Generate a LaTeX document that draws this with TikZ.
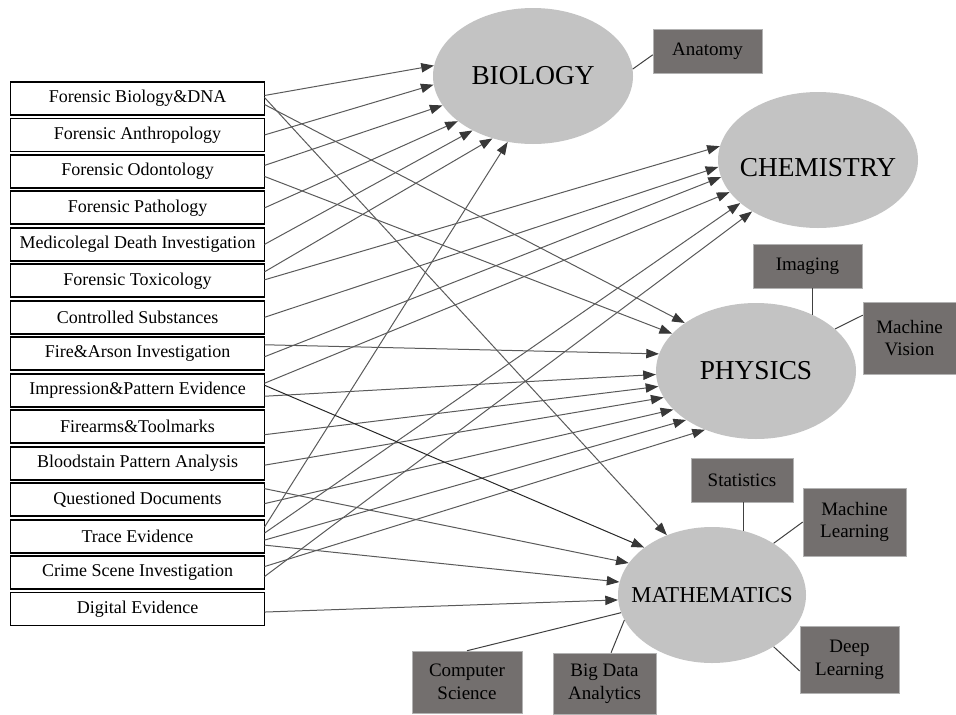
\documentclass[tikz,border=0pt]{standalone}
\usepackage{fontspec}
\setmainfont{Liberation Serif}
\usetikzlibrary{arrows.meta,positioning,shapes.geometric}

\definecolor{ellgray}{HTML}{C3C3C3}
\definecolor{tagfill}{HTML}{736F6E}
\definecolor{linegray}{HTML}{5A5A5A}
\definecolor{tipgray}{HTML}{383838}

\begin{document}
\begin{tikzpicture}[
  x=0.75pt, y=-0.75pt,
  field/.style={rectangle, draw, line width=1.4pt, minimum width=190.5pt, minimum height=24.75pt,
                outer sep=0pt, inner sep=0pt, font=\fontsize{13.5}{15}\selectfont},
  science/.style={ellipse, fill=ellgray, minimum width=150pt, minimum height=102pt, inner sep=0pt,
                  font=\fontsize{20.5}{24}\selectfont},
  tag/.style={rectangle, fill=tagfill, draw=gray!60, line width=0.4pt, align=center, inner sep=1pt,
              font=\fontsize{14.25}{17}\selectfont},
  arr/.style={-{Triangle[length=9.5pt, width=7pt, color=tipgray]}, draw=linegray, line width=0.75pt},
  link/.style={draw=black!75, line width=0.75pt}
]
\useasboundingbox (0,0) rectangle (956,714);

% forensic disciplines
\node[field] (dna) at (137.5,98.5) {Forensic Biology\&DNA};
\node[field, below=2.6pt of dna] (anthro) {Forensic Anthropology};
\node[field, below=2.6pt of anthro] (odonto) {Forensic Odontology};
\node[field, below=2.6pt of odonto] (patho) {Forensic Pathology};
\node[field, below=2.6pt of patho] (medico) {Medicolegal Death Investigation};
\node[field, below=2.6pt of medico] (toxi) {Forensic Toxicology};
\node[field, below=2.6pt of toxi] (controlled) {Controlled Substances};
\node[field, below=2.6pt of controlled] (fire) {Fire\&Arson Investigation};
\node[field, below=2.6pt of fire] (impression) {Impression\&Pattern Evidence};
\node[field, below=2.6pt of impression] (firearms) {Firearms\&Toolmarks};
\node[field, below=2.6pt of firearms] (bloodstain) {Bloodstain Pattern Analysis};
\node[field, below=2.6pt of bloodstain] (questioned) {Questioned Documents};
\node[field, below=2.6pt of questioned] (trace) {Trace Evidence};
\node[field, below=2.6pt of trace] (crime) {Crime Scene Investigation};
\node[field, below=2.6pt of crime] (digital) {Digital Evidence};

% sciences
\node[science] (bio) at (533,76) {BIOLOGY};
\node[science] (chem) at (818,160) {\makebox[0pt]{\raisebox{-12pt}[0pt][0pt]{CHEMISTRY}}};
\node[science] (phy) at (756,371) {PHYSICS};
\node[science, minimum width=141pt, font=\fontsize{17}{20}\selectfont] (math) at (712,595) {\makebox[0pt]{MATHEMATICS}};

% sub-fields
\node[tag, minimum width=81.75pt, minimum height=33pt] (anatomy) at (707.5,51) {Anatomy};
\node[tag, minimum width=81.75pt, minimum height=33pt] (imaging) at (807.5,266) {Imaging};
\node[tag, minimum width=69.75pt, minimum height=54pt] (mvision) at (909.5,338) {Machine\\Vision};
\node[tag, minimum width=76.5pt, minimum height=33pt] (stats) at (742,480) {Statistics};
\node[tag, minimum width=77.25pt, minimum height=51pt] (mlearn) at (854.5,522) {Machine\\Learning};
\node[tag, minimum width=74.25pt, minimum height=50.25pt] (dlearn) at (849.5,659.5) {Deep\\Learning};
\node[tag, minimum width=82.5pt, minimum height=46.5pt] (csci) at (467,682) {Computer\\Science};
\node[tag, minimum width=77.25pt, minimum height=45.75pt] (bigdata) at (604.5,683.5) {Big Data\\Analytics};

% into biology
\draw[arr] ([yshift=2.25pt]dna.east) -- (bio.174);
\draw[arr] (anthro.east) -- (bio.185);
\draw[arr] ([yshift=4.5pt]odonto.east) -- (bio.198);
\draw[arr] (patho.east) -- (bio.211);
\draw[arr] (medico.east) -- (bio.222);
\draw[arr] ([yshift=6.75pt]toxi.east) -- (bio.237);
\draw[arr] ([yshift=6.75pt]trace.east) -- (bio.249);

% into chemistry
\draw[arr] ([yshift=0.75pt]toxi.east) -- (chem.172);
\draw[arr] (controlled.east) -- (chem.184);
\draw[arr] ([yshift=-2.25pt]fire.east) -- (chem.190);
\draw[arr] ([yshift=5.25pt]impression.east) -- (chem.200);
\draw[arr] ([yshift=2.25pt]trace.east) -- (chem.209);
\draw[arr] ([yshift=-3pt]crime.east) -- (chem.218);

% into physics
\draw[arr] ([yshift=-4.5pt]dna.east) -- (phy.146);
\draw[arr] ([yshift=-3.75pt]odonto.east) -- (phy.156);
\draw[arr] ([yshift=6.75pt]fire.east) -- (phy.170);
\draw[arr] ([yshift=-4.5pt]impression.east) -- (phy.182);
\draw[arr] ([yshift=-6pt]firearms.east) -- (phy.189);
\draw[arr] ([yshift=-1.5pt]bloodstain.east) -- (phy.196);
\draw[arr] ([yshift=-3pt]questioned.east) -- (phy.205);
\draw[arr] ([yshift=-3pt]trace.east) -- (phy.215);
\draw[arr] ([yshift=4.5pt]crime.east) -- (phy.229);

% into mathematics
\draw[arr] ([yshift=0.75pt]dna.east) -- (math.127);
\draw[arr, draw=black!85] ([yshift=3.75pt]impression.east) -- (math.145);
\draw[arr] ([yshift=8.25pt]questioned.east) -- (math.159);
\draw[arr] ([yshift=-6.75pt]trace.east) -- (math.172);
\draw[arr] ([yshift=-2.25pt]digital.east) -- (math.183);

% sub-field links
\draw[link] (bio.4) -- (anatomy.184);
\draw[link] (phy.45) -- (phy.45 |- imaging.south);
\draw[link] (phy.28) -- (mvision.154);
\draw[link] (math.64) -- (math.64 |- stats.south);
\draw[link] (math.40) -- (mlearn.west);
\draw[link] (math.320) -- (dlearn.193);
\draw[link] (math.191) -- (csci.north);
\draw[link] (math.196) -- (bigdata.78);
\end{tikzpicture}
\end{document}
